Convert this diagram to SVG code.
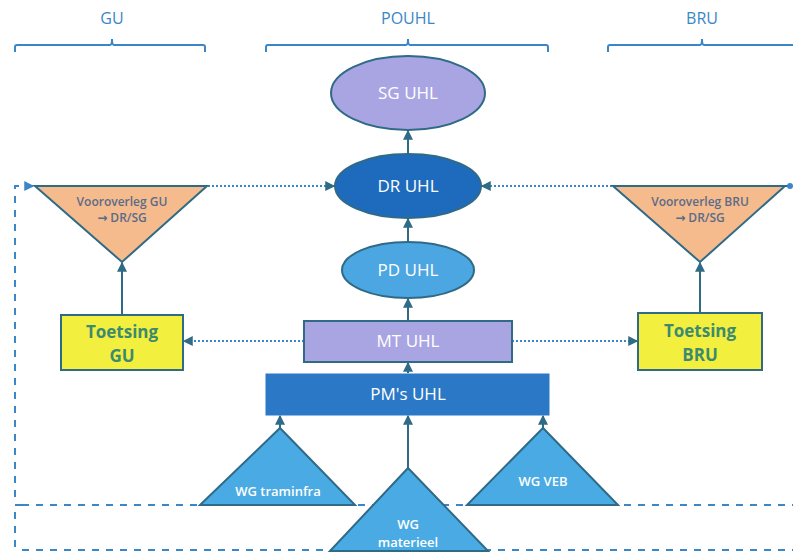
<svg xmlns="http://www.w3.org/2000/svg" width="793" height="553" viewBox="0 0 793 553">
  <defs>
    <style>
      text { font-family: "Open Sans", "Liberation Sans", sans-serif; text-anchor: middle; }
      .hdr { fill: #3a86c8; font-size: 16px; }
      .brace { fill: none; stroke: #3a86c8; stroke-width: 2; }
      .lbl { fill: #ffffff; font-size: 17px; }
      .lbl-sm { fill: #ffffff; font-size: 13px; font-weight: 600; }
      .pre { fill: #5a6b8a; font-size: 12px; font-weight: 600; }
      .arr { font-family: "DejaVu Sans", sans-serif; font-weight: bold; }
      .test { fill: #3d8a6e; font-size: 17px; font-weight: bold; }
      .edge { stroke: #2f6a86; stroke-width: 2; }
      .solid { stroke: #2f6a86; stroke-width: 2; fill: none; }
      .dot { stroke: #3a86c8; stroke-width: 2; stroke-dasharray: 2 2; fill: none; }
      .dash { stroke: #3a86c8; stroke-width: 2; stroke-dasharray: 7 7; fill: none; }
    </style>
    <marker id="ah" viewBox="0 0 8 8" refX="7" refY="4" markerWidth="5" markerHeight="5" orient="auto">
      <path d="M0,0 L8,4 L0,8 z" fill="#2f6a86"/>
    </marker>
    <marker id="ahb" viewBox="0 0 8 8" refX="7" refY="4" markerWidth="5" markerHeight="5" orient="auto">
      <path d="M0,0 L8,4 L0,8 z" fill="#3a86c8"/>
    </marker>
  </defs>

  <!-- column headers with braces -->
  <g id="hdr-gu">
    <text class="hdr" x="112" y="24">GU</text>
    <path class="brace" d="M15,52 V47 Q15,45 17,45 H110 Q112,45 112,39 Q112,45 114,45 H203 Q205,45 205,47 V52"/>
  </g>
  <g id="hdr-pouhl">
    <text class="hdr" x="408" y="24">POUHL</text>
    <path class="brace" d="M266,52 V47 Q266,45 268,45 H406 Q408,45 408,39 Q408,45 410,45 H546 Q548,45 548,47 V52"/>
  </g>
  <g id="hdr-bru">
    <text class="hdr" x="702" y="24">BRU</text>
    <path class="brace" d="M608,52 V47 Q608,45 610,45 H700 Q702,45 702,39 Q702,45 704,45 H793"/>
  </g>

  <!-- connectors -->
  <g id="connectors">
    <line class="solid" x1="408" y1="155" x2="408" y2="131" marker-end="url(#ah)"/>
    <line class="solid" x1="408" y1="242" x2="408" y2="219" marker-end="url(#ah)"/>
    <line class="solid" x1="408" y1="321" x2="408" y2="299" marker-end="url(#ah)"/>
    <line class="solid" x1="408" y1="373" x2="408" y2="363" marker-end="url(#ah)"/>
    <line class="solid" x1="280" y1="428" x2="280" y2="416" marker-end="url(#ah)"/>
    <line class="solid" x1="408" y1="468" x2="408" y2="416" marker-end="url(#ah)"/>
    <line class="solid" x1="543" y1="428" x2="543" y2="416" marker-end="url(#ah)"/>
    <line class="solid" x1="122" y1="315" x2="122" y2="263" marker-end="url(#ah)"/>
    <line class="solid" x1="700" y1="313" x2="700" y2="263" marker-end="url(#ah)"/>
    <!-- consultation links -->
    <line class="dot" x1="208" y1="186" x2="334" y2="186" marker-end="url(#ah)"/>
    <line class="dot" x1="612" y1="186" x2="482" y2="186" marker-end="url(#ah)"/>
    <line class="dot" x1="304" y1="341" x2="184" y2="341" marker-end="url(#ah)"/>
    <line class="dot" x1="512" y1="341" x2="637" y2="341" marker-end="url(#ah)"/>
    <line class="solid" x1="785" y1="186" x2="791" y2="186"/>
    <circle cx="790" cy="186" r="3" fill="#3a86c8"/>
    <!-- feedback loop from the working groups -->
    <path class="dash" d="M15,497 V186 H33" marker-end="url(#ahb)"/>
    <path class="dash" d="M22,505 H15 V550"/>
    <line class="dash" x1="22" y1="505" x2="793" y2="505"/>
    <line class="dash" x1="22" y1="550" x2="793" y2="550"/>
  </g>

  <!-- governance chain -->
  <g id="sg-uhl">
    <ellipse cx="408" cy="93" rx="77" ry="37" fill="#a9a5e2" class="edge"/>
    <text class="lbl" x="408" y="99">SG UHL</text>
  </g>
  <g id="dr-uhl">
    <ellipse cx="408" cy="186" rx="73" ry="32" fill="#1e6bbd" class="edge"/>
    <text class="lbl" x="408" y="192">DR UHL</text>
  </g>
  <g id="pd-uhl">
    <ellipse cx="408" cy="270" rx="66" ry="28" fill="#4ba6e2" class="edge"/>
    <text class="lbl" x="408" y="276">PD UHL</text>
  </g>
  <g id="mt-uhl">
    <rect x="304" y="321" width="208" height="41" fill="#a9a5e2" class="edge"/>
    <text class="lbl" x="408" y="347">MT UHL</text>
  </g>
  <g id="pms-uhl">
    <rect x="266" y="374" width="283" height="41" fill="#2a78c6" stroke="#2a78c6" stroke-width="1"/>
    <text class="lbl" x="408" y="400">PM's UHL</text>
  </g>

  <!-- working groups -->
  <g id="wg-traminfra">
    <polygon points="280,428 355,505 200,505" fill="#4aabe4" class="edge"/>
    <text class="lbl-sm" x="278" y="496">WG traminfra</text>
  </g>
  <g id="wg-veb">
    <polygon points="543,428 618,505 467,505" fill="#4aabe4" class="edge"/>
    <text class="lbl-sm" x="543" y="486">WG VEB</text>
  </g>
  <g id="wg-materieel">
    <polygon points="408,468 488,551 330,551" fill="#4aabe4" class="edge"/>
    <text class="lbl-sm" x="408" y="529">WG</text>
    <text class="lbl-sm" x="408" y="547">materieel</text>
  </g>

  <!-- GU side -->
  <g id="vooroverleg-gu">
    <polygon points="35,186 207,186 122,262" fill="#f5bb8c" class="edge"/>
    <text class="pre" x="122" y="206">Vooroverleg GU</text>
    <text class="pre" x="122" y="222"><tspan class="arr">→</tspan> DR/SG</text>
  </g>
  <g id="toetsing-gu">
    <rect x="61" y="315" width="122" height="55" fill="#f3ef3e" class="edge"/>
    <text class="test" x="122" y="338">Toetsing</text>
    <text class="test" x="122" y="362">GU</text>
  </g>

  <!-- BRU side -->
  <g id="vooroverleg-bru">
    <polygon points="613,186 785,186 700,262" fill="#f5bb8c" class="edge"/>
    <text class="pre" x="700" y="206">Vooroverleg BRU</text>
    <text class="pre" x="700" y="222"><tspan class="arr">→</tspan> DR/SG</text>
  </g>
  <g id="toetsing-bru">
    <rect x="638" y="313" width="124" height="57" fill="#f3ef3e" class="edge"/>
    <text class="test" x="700" y="337">Toetsing</text>
    <text class="test" x="700" y="361">BRU</text>
  </g>
</svg>
